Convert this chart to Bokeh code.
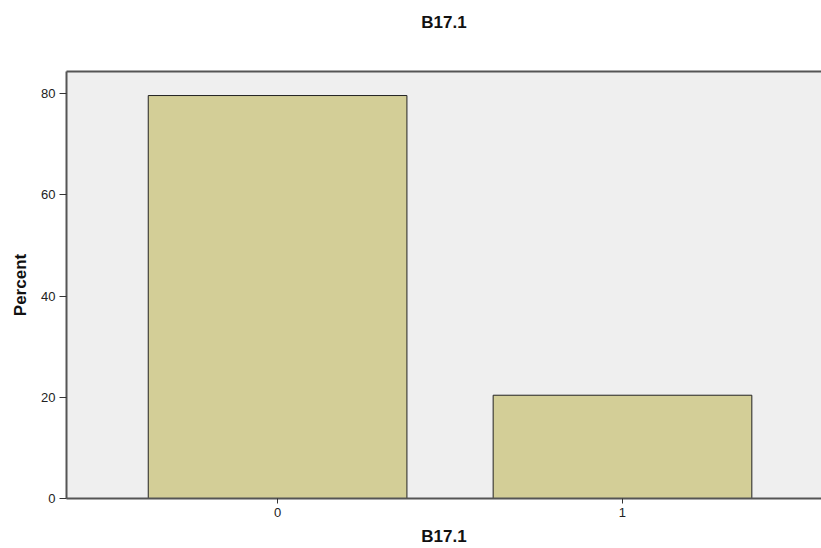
from bokeh.plotting import figure
from bokeh.models import ColumnDataSource, FixedTicker, LinearAxis, Range1d, Title
from bokeh.embed import file_html
from bokeh.resources import INLINE

title_text = "B17.1"
categories = ["0", "1"]
percents = [79.6, 20.4]
y_ticks = [0, 20, 40, 60, 80]

xs = list(range(len(categories)))
src = ColumnDataSource(dict(x=xs, top=percents))

p = figure(width=821, height=548, output_backend="svg", toolbar_location=None,
           x_range=Range1d(-0.612, 1.577), y_range=Range1d(0, 84.35),
           min_border_left=66, min_border_right=0, min_border_bottom=50, min_border_top=71)

p.background_fill_color = "#EFEFEF"
p.border_fill_color = "white"
p.outline_line_color = None
p.grid.visible = False

p.vbar(x="x", top="top", width=0.75, source=src, fill_color="#D3CE97",
       line_color="#222222", line_width=1)

font = "Liberation Sans"

p.xaxis.ticker = FixedTicker(ticks=xs)
p.xaxis.major_label_overrides = {i: c for i, c in enumerate(categories)}
p.yaxis.ticker = FixedTicker(ticks=y_ticks)

for ax in (p.xaxis[0], p.yaxis[0]):
    ax.axis_line_color = "#555555"
    ax.axis_line_width = 2
    ax.major_tick_line_color = "#333333"
    ax.major_tick_out = 7
    ax.major_tick_in = 0
    ax.minor_tick_line_color = None
    ax.major_label_text_font = font
    ax.major_label_text_font_size = "13px"
    ax.major_label_text_color = "#222222"
    ax.axis_label_text_font = font
    ax.axis_label_text_font_style = "bold"
    ax.axis_label_text_font_size = "17px"
    ax.axis_label_text_color = "#111111"

p.xaxis.axis_label = "B17.1"
p.yaxis.axis_label = "Percent"
p.xaxis.major_tick_out = 5
p.xaxis.major_label_standoff = 4
p.xaxis.axis_label_standoff = 7
p.yaxis.major_label_standoff = 4
p.yaxis.axis_label_standoff = 8

# top frame edge; its blank label reserves the gap below the title
top_ax = LinearAxis(ticker=FixedTicker(ticks=[]), axis_line_color="#555555", axis_line_width=2,
                    major_label_text_font_size="0px", major_tick_line_color=None,
                    minor_tick_line_color=None, major_tick_out=0,
                    axis_label=" ", axis_label_text_font_size="17px", axis_label_standoff=18)
p.add_layout(top_ax, "above")

p.title = Title(text=title_text, align="center", offset=-25, standoff=0,
                text_font=font, text_font_style="bold", text_font_size="17px",
                text_color="#111111")

open("out.html", "w").write(file_html(p, INLINE))
